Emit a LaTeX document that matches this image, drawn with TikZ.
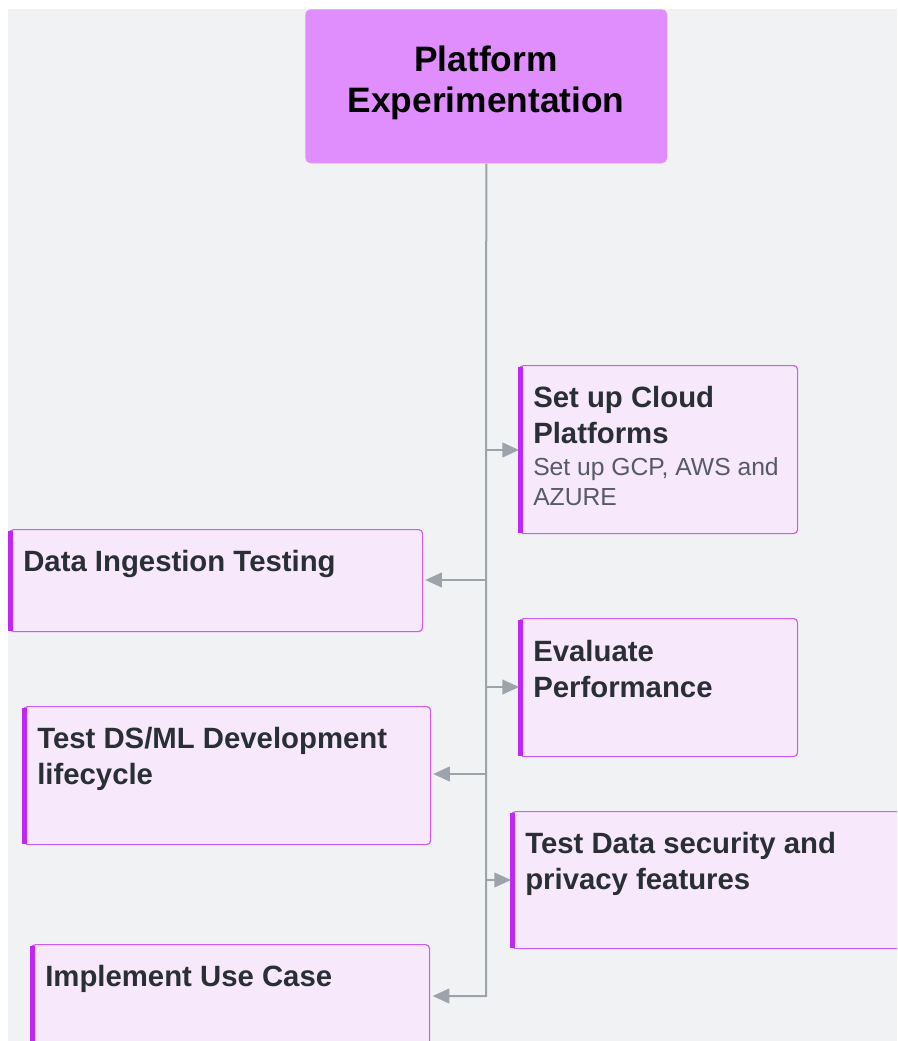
\documentclass[tikz,border=0pt]{standalone}
\usepackage{fontspec}
\setmainfont{Liberation Sans}
\usetikzlibrary{arrows.meta}
\definecolor{bg}{HTML}{F1F2F4}
\definecolor{topfill}{HTML}{E08EFD}
\definecolor{boxfill}{HTML}{F7E8FC}
\definecolor{boxedge}{HTML}{CC5CF2}
\definecolor{barcol}{HTML}{C026F5}
\definecolor{ttlcol}{HTML}{2A2E35}
\definecolor{subcol}{HTML}{555A64}
\definecolor{conncol}{HTML}{9CA3AB}
\tikzset{
  sz/.style 2 args={minimum width=#1*0.75pt, minimum height=#2*0.75pt},
  topbox/.style={fill=topfill, draw=none, rounded corners=4pt, inner sep=0pt},
  card/.style={fill=boxfill, draw=boxedge, line width=0.9pt, rounded corners=3pt, inner sep=0pt},
  barline/.style={draw=barcol, line width=3.75pt},
  toptext/.style={font=\fontsize{26.5}{30.75}\selectfont\bfseries, text=black, align=center, inner sep=0pt},
  ttltext/.style={font=\fontsize{22}{27}\selectfont\bfseries, text=ttlcol, align=left, inner sep=0pt, anchor=base west},
  subtext/.style={font=\fontsize{18.5}{22.5}\selectfont, text=subcol, align=left, inner sep=0pt, anchor=base west},
  connline/.style={draw=conncol, line width=1.5pt},
  connarrow/.style={connline, -{Triangle[length=12.5pt,width=11pt]}},
}
\begin{document}
\begin{tikzpicture}[x=0.75pt,y=-0.75pt]
\useasboundingbox (0,0) rectangle (897,1041);
\clip (0,0) rectangle (897,1041);
\fill[white] (0,0) rectangle (897,1041);
\fill[bg] (8,9) rectangle (897,1041);

% top box
\node[topbox, sz={362}{154}, anchor=north west] (top) at (305,9) {};
\node[toptext, anchor=base] (toptxt) at (486,113) {Platform\\Experimentation};

% cards
\node[card, sz={278}{168}, anchor=north west] (cloud) at (519,365) {};
\node[card, sz={413}{102}, anchor=north west] (ingest) at (9,529) {};
\node[card, sz={278}{138}, anchor=north west] (eval) at (519,618) {};
\node[card, sz={407}{138}, anchor=north west] (dsml) at (23,706) {};
\node[card, sz={400}{137}, anchor=north west] (sec) at (511,811) {};
\node[card, sz={398}{120}, anchor=north west] (impl) at (31,944) {};

% left bars
\foreach \n in {cloud,ingest,eval,dsml,sec,impl}{
  \draw[barline] ([xshift=1.2pt,yshift=-1.2pt]\n.north west) -- ([xshift=1.2pt,yshift=1.2pt]\n.south west);
}

% texts (anchor = baseline of the last line)
\node[ttltext] (cloudt) at (533,443) {Set up Cloud\\Platforms};
\node[subtext] (clouds) at (533,505) {Set up GCP, AWS and\\AZURE};
\node[ttltext] (ingestt) at (23,571) {Data Ingestion Testing};
\node[ttltext] (evalt) at (533,697) {Evaluate\\Performance};
\node[ttltext] (dsmlt) at (37,784) {Test DS/ML Development\\lifecycle};
\node[ttltext] (sect) at (525,889) {Test Data security and\\privacy features};
\node[ttltext] (implt) at (45,986) {Implement Use Case};

% connectors
\coordinate (b1) at (486,450);
\coordinate (b2) at (486,580);
\coordinate (b3) at (486,687);
\coordinate (b4) at (486,774);
\coordinate (b5) at (486,880);
\coordinate (b6) at (486,996);
\draw[connarrow, shorten >=1.8pt] (top.south) -- (b6) -- (b6 -| impl.east);
\draw[connarrow] (b1) -- (b1 -| cloud.west);
\draw[connarrow, shorten >=1.5pt] (b2) -- (b2 -| ingest.east);
\draw[connarrow] (b3) -- (b3 -| eval.west);
\draw[connarrow, shorten >=1.5pt] (b4) -- (b4 -| dsml.east);
\draw[connarrow] (b5) -- (b5 -| sec.west);
\end{tikzpicture}
\end{document}
